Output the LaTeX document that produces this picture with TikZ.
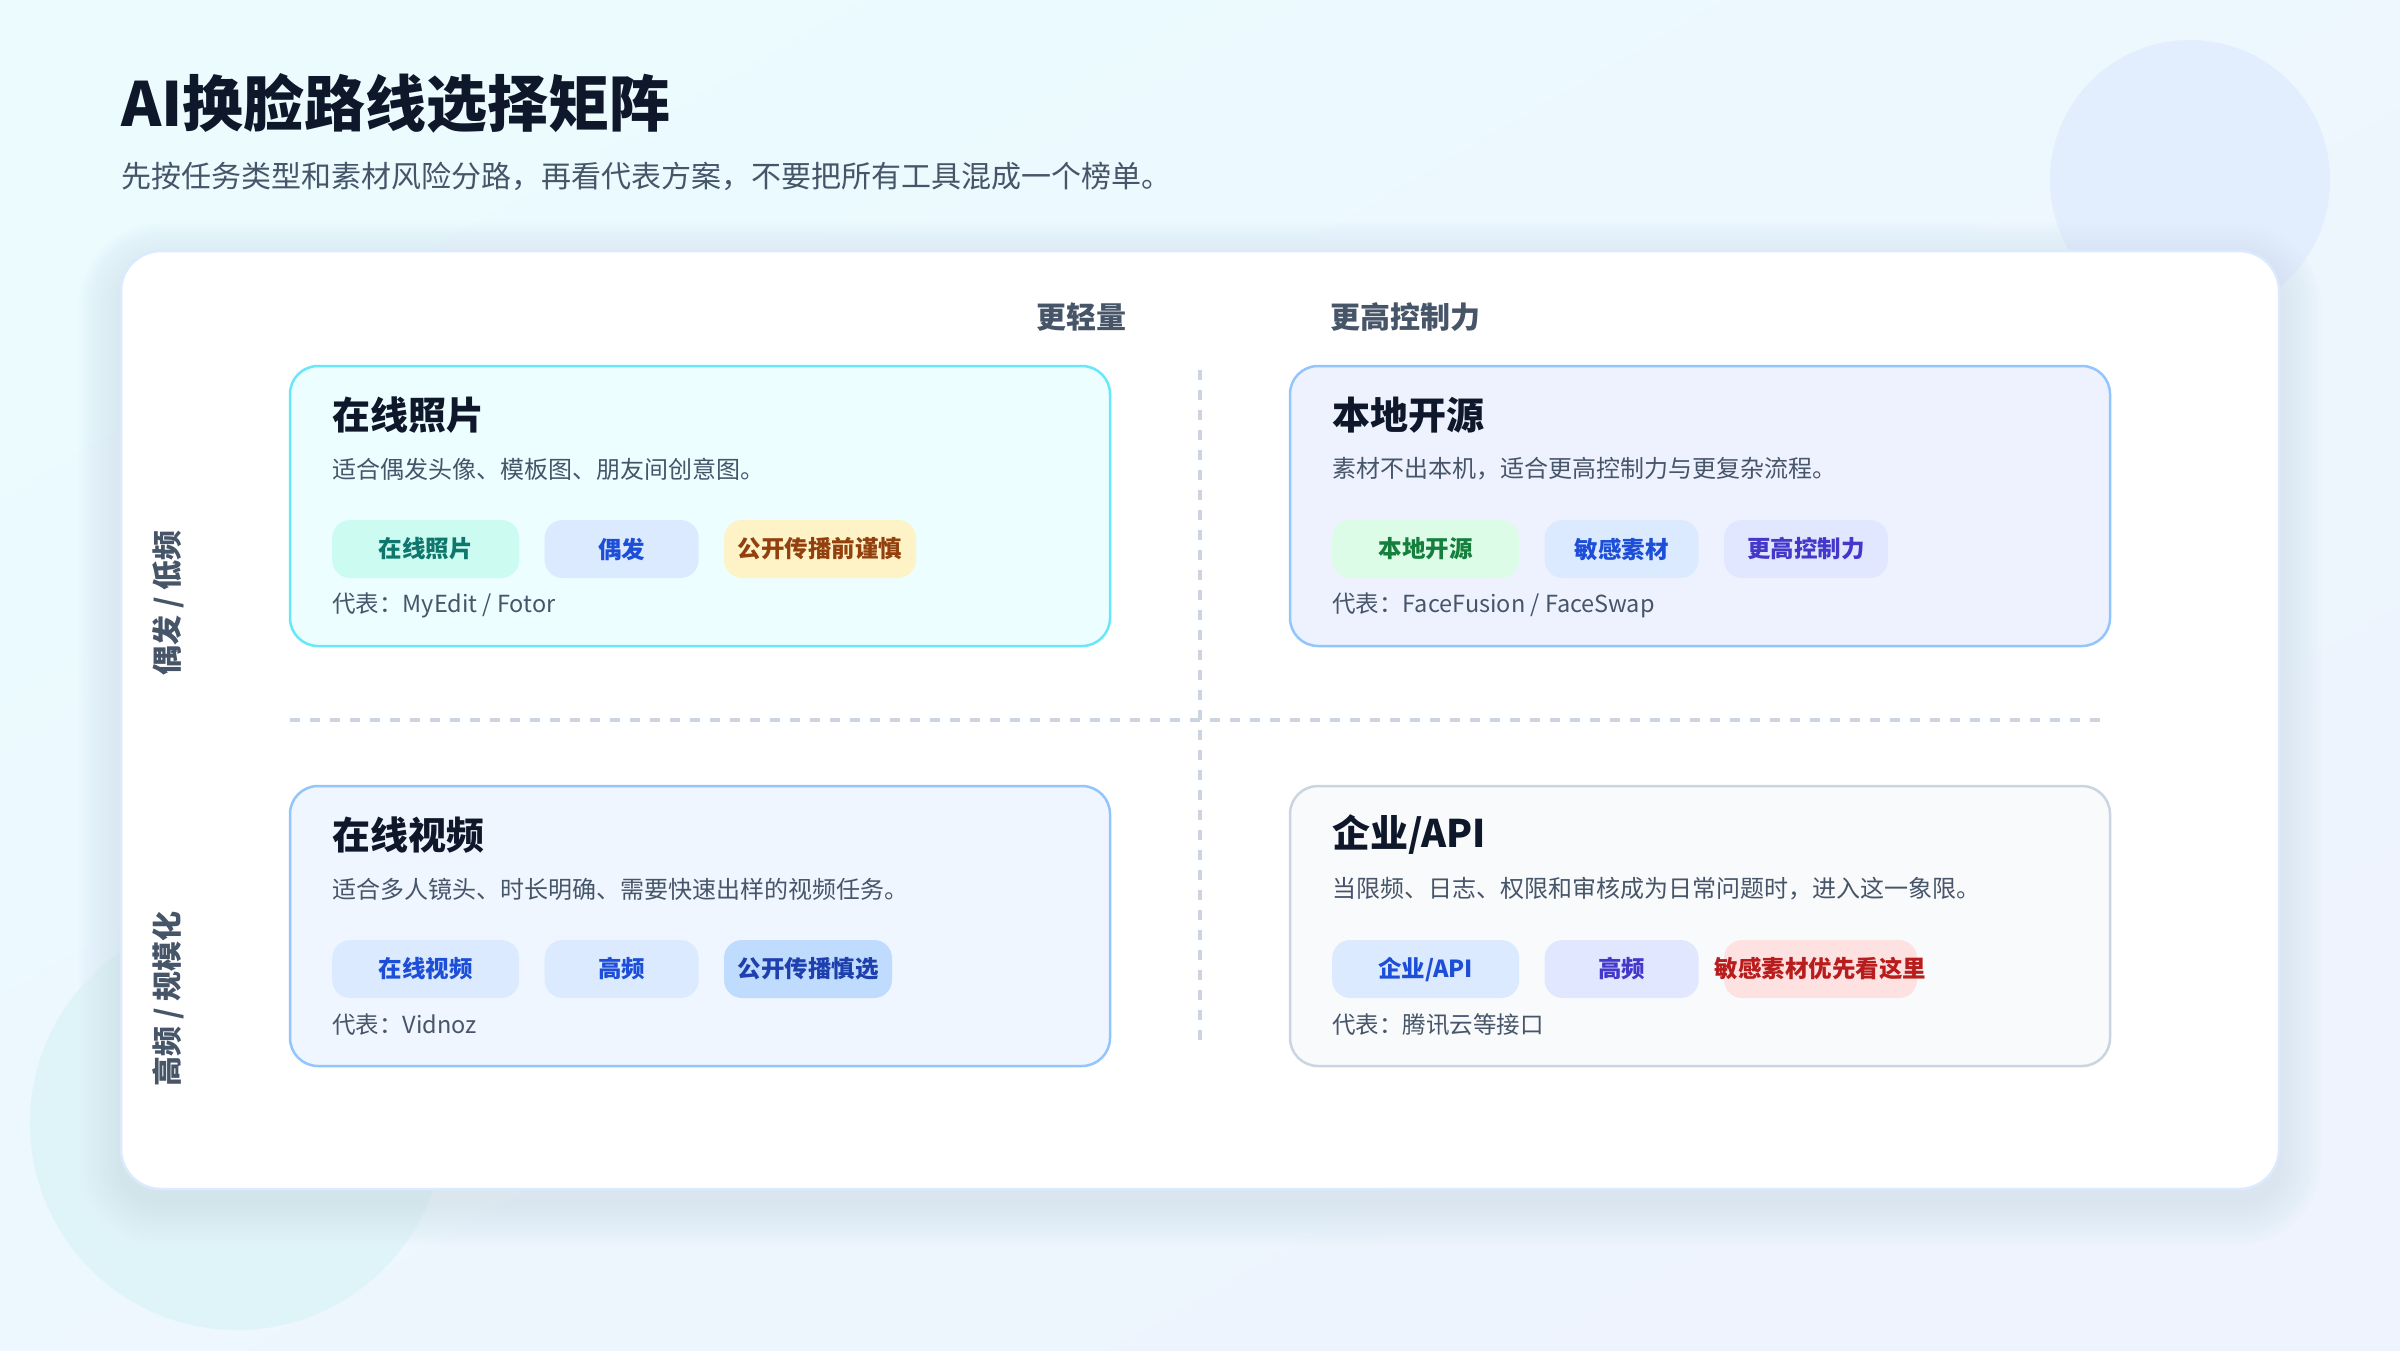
\documentclass[tikz,border=0pt]{standalone}
\usepackage{fontspec}
\setmainfont{Noto Sans CJK SC}
\usetikzlibrary{positioning}

\definecolor{bgA}{HTML}{EBFBFE}
\definecolor{bgB}{HTML}{EEF3FD}
\definecolor{ink}{HTML}{0F172A}
\definecolor{slate}{HTML}{475569}
\definecolor{rule}{HTML}{CBD5E1}
\definecolor{shadowc}{HTML}{64748B}

\begin{document}
\begin{tikzpicture}[x=1pt,y=-1pt]
    % Node styles
    \tikzset{quad/.style={draw, line width=2.5pt, rounded corners=28pt, minimum width=820pt, minimum height=280pt, inner sep=0pt}}
    \tikzset{qtitle/.style={anchor=west, inner sep=0pt, text=ink, font=\fontsize{38}{44}\selectfont\bfseries}}
    \tikzset{qdesc/.style={anchor=west, inner sep=0pt, text=slate, font=\fontsize{24}{28}\selectfont}}
    \tikzset{qrep/.style={anchor=west, inner sep=0pt, text=slate, font=\fontsize{23.5}{28}\selectfont}}
    \tikzset{tagbox/.style={rounded corners=18pt, minimum height=58pt, inner sep=0pt, font=\fontsize{23.5}{28}\selectfont\bfseries}}
    \tikzset{axislabel/.style={inner sep=0pt, text=slate, font=\fontsize{30}{34}\selectfont\bfseries}}
    \tikzset{divider/.style={draw=rule, line width=3.5pt, dash pattern=on 10pt off 10pt}}

    \useasboundingbox (0,0) rectangle (2400,1350);

    % --- Background and circles ---
    \shade[top color=bgA, bottom color=bgB, shading angle=30] (0,0) rectangle (2400,1350);
    \fill[fill={rgb,255:red,226;green,238;blue,253}] (2190,180) circle (140);
    \fill[fill={rgb,255:red,223;green,244;blue,249}] (237,1123) circle (207);

    % --- Heading ---
    \node[anchor=west, inner sep=0pt, text=ink, font=\fontsize{61}{70}\selectfont\bfseries] (title) at (121,103) {AI换脸路线选择矩阵};
    \node[anchor=west, inner sep=0pt, text=slate, font=\fontsize{30}{36}\selectfont] (subtitle) at (121,176) {先按任务类型和素材风险分路，再看代表方案，不要把所有工具混成一个榜单。};

    % --- Card with soft shadow ---
    \foreach \s in {1,...,14} {
      \pgfmathsetmacro{\r}{40+3*\s}
      \fill[shadowc, opacity=0.007, rounded corners=\r pt] (121-3*\s, 251+14-3*\s) rectangle (2279+3*\s, 1189+14+3*\s);
    }
    \node[draw={rgb,255:red,219;green,234;blue,254}, line width=2.5pt, fill=white, rounded corners=40pt, minimum width=2158pt, minimum height=938pt] (card) at (1200,720) {};

    % --- Axes ---
    \node[axislabel, anchor=west] (ax_light) at (1036,317) {更轻量};
    \node[axislabel, anchor=west] (ax_ctrl) at (1330,317) {更高控制力};
    \node[axislabel, rotate=90] (ax_low) at (168,603) {偶发 / 低频};
    \node[axislabel, rotate=90] (ax_high) at (168,999) {高频 / 规模化};
    \coordinate (v_top) at (1200,370);
    \coordinate (v_bot) at (1200,1040);
    \coordinate (h_left) at (290,720);
    \coordinate (h_right) at (2100,720);
    \draw[divider] (h_left) -- (h_right);
    \draw[divider] (v_top) -- (v_bot);

    % --- Quadrant: top left ---
    \node[quad, draw={rgb,255:red,103;green,232;blue,249}, fill={rgb,255:red,236;green,254;blue,255}] (tl) at (700,506) {};
    \node[qtitle] (tl_title) at (332,415) {在线照片};
    \node[qdesc] (tl_desc) at (332,469) {适合偶发头像、模板图、朋友间创意图。};
    \node[tagbox, anchor=west, minimum width=187pt, fill={rgb,255:red,204;green,251;blue,241}, text={rgb,255:red,15;green,118;blue,110}] (tl_t1) at (332,549) {在线照片};
    \node[tagbox, right=25pt of tl_t1, minimum width=154pt, fill={rgb,255:red,219;green,234;blue,254}, text={rgb,255:red,29;green,78;blue,216}] (tl_t2) {偶发};
    \node[tagbox, right=25pt of tl_t2, minimum width=192pt, fill={rgb,255:red,254;green,243;blue,199}, text={rgb,255:red,146;green,64;blue,14}] (tl_t3) {公开传播前谨慎};
    \node[qrep] (tl_rep) at (332,605) {代表：MyEdit / Fotor};

    % --- Quadrant: top right ---
    \node[quad, draw={rgb,255:red,147;green,197;blue,253}, fill={rgb,255:red,238;green,242;blue,255}] (tr) at (1700,506) {};
    \node[qtitle] (tr_title) at (1332,415) {本地开源};
    \node[qdesc] (tr_desc) at (1332,469) {素材不出本机，适合更高控制力与更复杂流程。};
    \node[tagbox, anchor=west, minimum width=187pt, fill={rgb,255:red,220;green,252;blue,231}, text={rgb,255:red,21;green,128;blue,61}] (tr_t1) at (1332,549) {本地开源};
    \node[tagbox, right=25pt of tr_t1, minimum width=154pt, fill={rgb,255:red,219;green,234;blue,254}, text={rgb,255:red,29;green,78;blue,216}] (tr_t2) {敏感素材};
    \node[tagbox, right=25pt of tr_t2, minimum width=164pt, fill={rgb,255:red,224;green,231;blue,255}, text={rgb,255:red,67;green,56;blue,202}] (tr_t3) {更高控制力};
    \node[qrep] (tr_rep) at (1332,605) {代表：FaceFusion / FaceSwap};

    % --- Quadrant: bottom left ---
    \node[quad, draw={rgb,255:red,147;green,197;blue,253}, fill={rgb,255:red,239;green,246;blue,255}] (bl) at (700,926) {};
    \node[qtitle] (bl_title) at (332,835) {在线视频};
    \node[qdesc] (bl_desc) at (332,889) {适合多人镜头、时长明确、需要快速出样的视频任务。};
    \node[tagbox, anchor=west, minimum width=187pt, fill={rgb,255:red,219;green,234;blue,254}, text={rgb,255:red,29;green,78;blue,216}] (bl_t1) at (332,969) {在线视频};
    \node[tagbox, right=25pt of bl_t1, minimum width=154pt, fill={rgb,255:red,219;green,234;blue,254}, text={rgb,255:red,29;green,78;blue,216}] (bl_t2) {高频};
    \node[tagbox, right=25pt of bl_t2, minimum width=168pt, fill={rgb,255:red,191;green,219;blue,254}, text={rgb,255:red,30;green,64;blue,175}] (bl_t3) {公开传播慎选};
    \node[qrep] (bl_rep) at (332,1025) {代表：Vidnoz};

    % --- Quadrant: bottom right ---
    \node[quad, draw={rgb,255:red,203;green,213;blue,225}, fill={rgb,255:red,248;green,250;blue,252}] (br) at (1700,926) {};
    \node[qtitle] (br_title) at (1332,835) {企业/API};
    \node[qdesc] (br_desc) at (1332,889) {当限频、日志、权限和审核成为日常问题时，进入这一象限。};
    \node[tagbox, anchor=west, minimum width=187pt, fill={rgb,255:red,219;green,234;blue,254}, text={rgb,255:red,29;green,78;blue,216}] (br_t1) at (1332,969) {企业/API};
    \node[tagbox, right=25pt of br_t1, minimum width=154pt, fill={rgb,255:red,224;green,231;blue,255}, text={rgb,255:red,67;green,56;blue,202}] (br_t2) {高频};
    \node[tagbox, right=25pt of br_t2, minimum width=193pt, fill={rgb,255:red,254;green,226;blue,226}] (br_t3) {};
    \node[tagbox, text={rgb,255:red,185;green,28;blue,28}] (br_t3_text) at (br_t3) {敏感素材优先看这里};
    \node[qrep] (br_rep) at (1332,1025) {代表：腾讯云等接口};

  \end{tikzpicture}
\end{document}
